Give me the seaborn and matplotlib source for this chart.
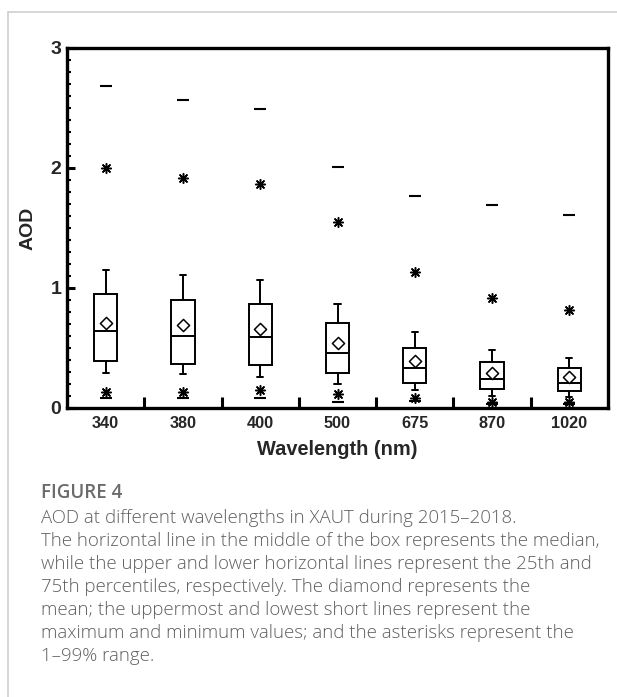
import numpy as np
import pandas as pd
import matplotlib
matplotlib.use("Agg")
import matplotlib.pyplot as plt
from matplotlib.lines import Line2D
import seaborn as sns

# ---- data ----
wavelengths = ["340", "380", "400", "500", "675", "870", "1020"]
whisker_low = [0.29, 0.28, 0.26, 0.20, 0.15, 0.10, 0.09]
q1 = [0.39, 0.37, 0.36, 0.29, 0.21, 0.16, 0.14]
median = [0.64, 0.60, 0.59, 0.46, 0.33, 0.24, 0.21]
q3 = [0.95, 0.90, 0.87, 0.71, 0.50, 0.38, 0.33]
whisker_high = [1.15, 1.11, 1.07, 0.87, 0.63, 0.48, 0.42]
mean = [0.71, 0.69, 0.66, 0.54, 0.39, 0.29, 0.26]
p01 = [0.13, 0.13, 0.15, 0.12, 0.08, 0.05, 0.05]
p99 = [2.00, 1.92, 1.87, 1.55, 1.13, 0.92, 0.82]
v_min = [0.08, 0.08, 0.08, 0.05, 0.06, 0.03, 0.03]
v_max = [2.68, 2.57, 2.49, 2.01, 1.77, 1.69, 1.61]
yticks = [0, 1, 2, 3]

# five-number summaries as long-form table (exact quartiles for 5 values)
rows = []
for i, w in enumerate(wavelengths):
    for v in (whisker_low[i], q1[i], median[i], q3[i], whisker_high[i]):
        rows.append({"wl": w, "AOD": v})
box_df = pd.DataFrame(rows)
pt_df = pd.DataFrame({"wl": wavelengths, "mean": mean, "p01": p01, "p99": p99,
                      "min": v_min, "max": v_max})

sns.set_theme(style="white")
plt.rcParams["font.family"] = ["Liberation Sans", "DejaVu Sans"]

fig = plt.figure(figsize=(6.17, 6.97), dpi=100)
ax = fig.add_axes([67 / 617, 1 - 408 / 697, (608 - 67) / 617, (408 - 48) / 697])

lw = 1.4
sns.boxplot(data=box_df, x="wl", y="AOD", order=wavelengths, whis=np.inf,
            width=0.3, color="white", linecolor="black", linewidth=lw,
            fill=True, showcaps=True, ax=ax,
            medianprops=dict(color="black", linewidth=lw),
            whiskerprops=dict(color="black", linewidth=lw),
            capprops=dict(color="black", linewidth=lw),
            boxprops=dict(edgecolor="black", linewidth=lw, facecolor="white"))
# make whisker caps short
whisk_vals = np.array(whisker_low + whisker_high)
for line in ax.lines:
    x = np.asarray(line.get_xdata(), dtype=float)
    y = np.asarray(line.get_ydata(), dtype=float)
    if len(x) == 2 and y[0] == y[1] and np.any(np.isclose(whisk_vals, y[0])):
        c = x.mean()
        line.set_xdata([c - 0.04, c + 0.04])

sns.stripplot(data=pt_df, x="wl", y="mean", order=wavelengths, jitter=False,
              marker="D", s=6.2, color="white", edgecolor="black", linewidth=1.1,
              ax=ax, zorder=5)
for col in ("p01", "p99"):
    sns.stripplot(data=pt_df, x="wl", y=col, order=wavelengths, jitter=False,
                  marker=(8, 2, 0), s=7, color="black", linewidth=1.1,
                  ax=ax, zorder=5)
for col in ("min", "max"):
    sns.stripplot(data=pt_df, x="wl", y=col, order=wavelengths, jitter=False,
                  marker="_", s=8, color="black", linewidth=1.5,
                  ax=ax, zorder=5)

ax.set_xlim(-0.5, len(wavelengths) - 0.5)
ax.set_ylim(0, 3)
ax.set_yticks(yticks)
ax.set_yticklabels([str(t) for t in yticks])
ax.set_yticks(np.arange(0, 3.01, 0.1), minor=True)
ax.set_xticks(range(len(wavelengths)))
ax.set_xticklabels(wavelengths)
ax.set_xticks(np.arange(0.5, len(wavelengths) - 0.5, 1.0), minor=True)

ax.tick_params(axis="x", which="major", length=0, pad=6, labelsize=11.7)
ax.tick_params(axis="x", which="minor", direction="in", length=8, width=2.2,
               color="black", bottom=True)
ax.tick_params(axis="y", which="major", direction="in", length=6, width=2.2,
               color="black", left=True, labelsize=14, pad=4)
ax.tick_params(axis="y", which="minor", direction="in", length=3, width=1.5,
               color="black", left=True)
for lab in ax.get_xticklabels() + ax.get_yticklabels():
    lab.set_fontweight("bold")

for s in ax.spines.values():
    s.set_visible(True)
    s.set_color("black")
    s.set_linewidth(2.4)

ax.set_xlabel("Wavelength (nm)", fontsize=14.4, fontweight="bold", labelpad=6)
ax.set_ylabel("AOD", fontsize=14, fontweight="bold", labelpad=10)

# frame lines of the page
fig.add_artist(Line2D([8 / 617, 1], [1 - 12 / 697, 1 - 12 / 697],
                      color="#d0d0d0", linewidth=1.2))
fig.add_artist(Line2D([8 / 617, 8 / 617], [0, 1 - 12 / 697],
                      color="#d0d0d0", linewidth=1.2))

cap_font = ["Open Sans", "DejaVu Sans"]
fig.text(41 / 617, 1 - 493 / 697, "FIGURE 4", fontsize=13.5, color="#6b6b6b",
         family=cap_font, fontweight="semibold", va="center", ha="left")
caption = [
    "AOD at different wavelengths in XAUT during 2015\u20132018.",
    "The horizontal line in the middle of the box represents the median,",
    "while the upper and lower horizontal lines represent the 25th and",
    "75th percentiles, respectively. The diamond represents the",
    "mean; the uppermost and lowest short lines represent the",
    "maximum and minimum values; and the asterisks represent the",
    "1\u201399% range.",
]
for i, line in enumerate(caption):
    fig.text(41 / 617, 1 - (518 + 23 * i) / 697, line, fontsize=13.4,
             color="#5f5f5f", family=cap_font, fontweight="light",
             va="center", ha="left")

fig.savefig("out.png", dpi=100)
